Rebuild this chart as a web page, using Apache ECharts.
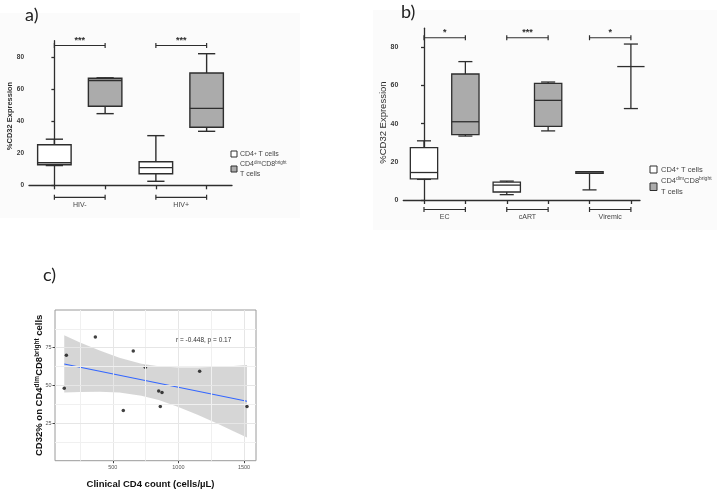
<!DOCTYPE html>
<html><head><meta charset="utf-8">
<script src="https://cdn.jsdelivr.net/npm/echarts@6/dist/echarts.min.js"></script>
<style>html,body{margin:0;padding:0;background:#fff}#c{width:724px;height:491px}</style>
</head><body><div id="c"></div>
<script>
// ---------- Panel a ----------
const aGroups = ['HIV-', 'HIV+'];
const aCD4 = [[12.3, 12.8, 14.0, 25.2, 28.7], [2.5, 7.2, 11.0, 14.7, 30.9]];
const aDim = [[44.6, 49.2, 65.2, 66.6, 66.9], [33.6, 36.1, 47.9, 69.9, 81.9]];
const aStars = ['***', '***'];
const aTicks = [0, 20, 40, 60, 80];
// ---------- Panel b ----------
const bGroups = ['EC', 'cART', 'Viremic'];
const bCD4 = [[10.8, 11.1, 14.4, 27.4, 31.0], [2.8, 4.2, 7.8, 9.4, 9.9], [5.3, 14.0, 14.0, 14.8, 14.8]];
const bDim = [[33.5, 34.2, 41.0, 66.0, 72.5], [36.2, 38.6, 52.2, 61.1, 61.8], [47.9, 47.9, 69.9, 81.7, 81.7]];
const bStars = ['*', '***', '*'];
const bTicks = [0, 20, 40, 60, 80];
// ---------- Panel c ----------
const cCD4count = [130, 146, 367, 580, 656, 748, 850, 875, 862, 1162, 1523];
const cCD32 = [48.1, 70.0, 82.1, 33.3, 72.8, 62.0, 46.2, 45.3, 36.0, 59.4, 36.0];
const cFitX = [130, 1523];
const cFitY = [64.2, 39.5];
const cBandX = [130, 250, 400, 550, 718, 850, 1000, 1150, 1300, 1420, 1523];
const cBandLow = [45.2, 45.6, 45.8, 45.2, 43.1, 40.2, 35.7, 30.3, 24.5, 19.6, 15.4];
const cBandHigh = [83.3, 78.5, 73.1, 68.3, 64.4, 62.6, 61.8, 61.8, 62.3, 62.9, 63.5];
const cXTicks = [500, 1000, 1500];
const cXMinor = [250, 750, 1250];
const cYTicks = [25, 50, 75];
const cYMinor = [12.5, 37.5, 62.5, 87.5];
const cNote = 'r = -0.448, p = 0.17';

const FONT = 'Liberation Sans';
const INK = '#2e2e2e';
const GREY = '#ababab';

function boxData(groups, cd4, dim) {
  const white = [], grey = [];
  groups.forEach((g, i) => { white.push([2 * i].concat(cd4[i])); grey.push([2 * i + 1].concat(dim[i])); });
  return [white, grey];
}
function boxRender(fill, lw) {
  return function (params, api) {
    const s = api.value(0);
    const v = [1, 2, 3, 4, 5].map(i => api.value(i));
    const unit = api.size([1, 0])[0];
    const bw = unit * 0.66, cw = unit * 0.34;
    const cx = api.coord([s, 0])[0];
    const y = v.map(val => api.coord([s, val])[1]);
    const st = { stroke: INK, lineWidth: lw };
    const kids = [];
    const line = (x1, y1, x2, y2) => kids.push({ type: 'line', shape: { x1, y1, x2, y2 }, style: st });
    const noBox = v[1] === v[0] && v[3] === v[4];
    if (noBox) {
      line(cx, y[0], cx, y[4]);
    } else {
      line(cx, y[4], cx, y[3]);
      line(cx, y[0], cx, y[1]);
    }
    line(cx - cw / 2, y[4], cx + cw / 2, y[4]);
    line(cx - cw / 2, y[0], cx + cw / 2, y[0]);
    if (!noBox) kids.push({ type: 'rect', shape: { x: cx - bw / 2, y: y[3], width: bw, height: y[1] - y[3] }, style: { fill: fill, stroke: INK, lineWidth: lw } });
    line(cx - bw / 2, y[2], cx + bw / 2, y[2]);
    return { type: 'group', children: kids };
  };
}
function sigRender(labels, yVal, fs) {
  return function (params, api) {
    const p1 = api.coord([api.value(1), yVal]);
    const p2 = api.coord([api.value(2), yVal]);
    const st = { stroke: INK, lineWidth: 1.2 };
    return { type: 'group', children: [
      { type: 'line', shape: { x1: p1[0], y1: p1[1], x2: p2[0], y2: p2[1] }, style: st },
      { type: 'line', shape: { x1: p1[0], y1: p1[1] - 2.5, x2: p1[0], y2: p1[1] + 2.5 }, style: st },
      { type: 'line', shape: { x1: p2[0], y1: p2[1] - 2.5, x2: p2[0], y2: p2[1] + 2.5 }, style: st },
      { type: 'text', x: (p1[0] + p2[0]) / 2, y: p1[1] - 1, style: { text: labels[api.value(0)], fill: INK, fontSize: fs, fontWeight: 'bold', fontFamily: FONT, align: 'center', verticalAlign: 'bottom', textAlign: 'center', textVerticalAlign: 'bottom' } }
    ] };
  };
}
function groupRender(names, lineOff, textOff, fs) {
  return function (params, api) {
    const p1 = api.coord([api.value(1), 0]);
    const p2 = api.coord([api.value(2), 0]);
    const yl = p1[1] + lineOff;
    const st = { stroke: INK, lineWidth: 1.2 };
    return { type: 'group', children: [
      { type: 'line', shape: { x1: p1[0], y1: yl, x2: p2[0], y2: yl }, style: st },
      { type: 'line', shape: { x1: p1[0], y1: yl - 2.5, x2: p1[0], y2: yl + 2.5 }, style: st },
      { type: 'line', shape: { x1: p2[0], y1: yl - 2.5, x2: p2[0], y2: yl + 2.5 }, style: st },
      { type: 'text', x: (p1[0] + p2[0]) / 2, y: p1[1] + textOff, style: { text: names[api.value(0)], fill: '#444', fontSize: fs, fontFamily: FONT, align: 'center', verticalAlign: 'middle', textAlign: 'center', textVerticalAlign: 'middle' } }
    ] };
  };
}
function pairs(groups) { return groups.map((g, i) => [i, 2 * i, 2 * i + 1]); }

const [aWhite, aGrey] = boxData(aGroups, aCD4, aDim);
const [bWhite, bGrey] = boxData(bGroups, bCD4, bDim);
const aSlots = aGroups.flatMap((g, i) => [2 * i, 2 * i + 1]);
const bSlots = bGroups.flatMap((g, i) => [2 * i, 2 * i + 1]);

function boxXAxis(gi, max, slots) {
  return { gridIndex: gi, type: 'value', min: -0.5, max: max,
    axisLine: { show: true, lineStyle: { color: INK, width: 1.3 } },
    axisTick: { show: true, customValues: slots, length: 4, lineStyle: { color: INK, width: 1.3 } },
    axisLabel: { show: false }, splitLine: { show: false } };
}
function boxYAxis(gi, ticks, nameSize, nameWeight, nameGap, pad, lblSize) {
  return { gridIndex: gi, type: 'value', min: 0, max: 90,
    name: '%CD32 Expression', nameLocation: 'middle', nameGap: nameGap, nameMoveOverlap: false,
    nameTextStyle: { fontSize: nameSize, fontWeight: nameWeight, color: INK, fontFamily: FONT, padding: pad },
    axisLine: { show: true, lineStyle: { color: INK, width: 1.3 } },
    axisTick: { show: true, customValues: ticks, length: 3, lineStyle: { color: INK, width: 1.3 } },
    axisLabel: { customValues: ticks, fontSize: lblSize, fontWeight: 'bold', color: '#3a3a3a', margin: 5, fontFamily: FONT },
    splitLine: { show: false } };
}

const gridLines = []
  .concat(cXTicks.map(v => ({ xAxis: v, lineStyle: { color: '#e6e6e6', width: 1, type: 'solid' } })))
  .concat(cXMinor.map(v => ({ xAxis: v, lineStyle: { color: '#f0f0f0', width: 1, type: 'solid' } })))
  .concat(cYTicks.map(v => ({ yAxis: v, lineStyle: { color: '#e6e6e6', width: 1, type: 'solid' } })))
  .concat(cYMinor.map(v => ({ yAxis: v, lineStyle: { color: '#f0f0f0', width: 1, type: 'solid' } })));

const plain = v => String(v);

const option = {
  animation: false,
  textStyle: { fontFamily: FONT },
  grid: [
    { left: 29, top: 40.7, width: 203, height: 144.6, outerBoundsMode: 'none', containLabel: false },
    { left: 403.3, top: 28.2, width: 236.7, height: 171.8, outerBoundsMode: 'none', containLabel: false },
    { left: 55, top: 310, width: 201, height: 150.7, outerBoundsMode: 'none', containLabel: false,
      show: true, backgroundColor: '#ffffff', borderColor: '#9a9a9a', borderWidth: 1 }
  ],
  xAxis: [
    boxXAxis(0, 3.5, aSlots),
    boxXAxis(1, 5.22, bSlots),
    { gridIndex: 2, type: 'value', min: 59.5, max: 1591.5,
      name: 'Clinical CD4 count (cells/µL)', nameLocation: 'middle', nameGap: 19, nameMoveOverlap: false,
      nameTextStyle: { fontSize: 9.5, fontWeight: 'bold', color: '#111', fontFamily: FONT, padding: [0, 10, 0, 0] },
      axisLine: { show: false },
      axisTick: { show: true, customValues: cXTicks, length: 2.5, lineStyle: { color: '#444' } },
      axisLabel: { customValues: cXTicks, formatter: plain, fontSize: 5.5, color: '#555', margin: 4 },
      splitLine: { show: false } }
  ],
  yAxis: [
    boxYAxis(0, aTicks, 7.5, 'bold', 15, [0, 6, 0, 0], 6.5),
    boxYAxis(1, bTicks, 9.5, 'normal', 15, [0, 17, 0, 0], 7),
    { gridIndex: 2, type: 'value', min: 0, max: 100,
      name: '{a|CD32% on CD4}{s|dim}{a|CD8}{s|bright}{a| cells}', nameLocation: 'middle', nameGap: 11, nameMoveOverlap: false,
      nameTextStyle: { rich: {
        a: { fontSize: 9.5, fontWeight: 'bold', color: '#111', fontFamily: FONT },
        s: { fontSize: 6.5, fontWeight: 'bold', color: '#111', fontFamily: FONT, verticalAlign: 'top' } } },
      axisLine: { show: false },
      axisTick: { show: true, customValues: cYTicks, length: 2.5, lineStyle: { color: '#444' } },
      axisLabel: { customValues: cYTicks, formatter: plain, fontSize: 5.5, color: '#555', margin: 3.5 },
      splitLine: { show: false } }
  ],
  series: [
    { type: 'custom', xAxisIndex: 0, yAxisIndex: 0, clip: false, renderItem: boxRender('#ffffff', 1.4), data: aWhite, z: 3 },
    { type: 'custom', xAxisIndex: 0, yAxisIndex: 0, clip: false, renderItem: boxRender(GREY, 1.4), data: aGrey, z: 3 },
    { type: 'custom', xAxisIndex: 0, yAxisIndex: 0, clip: false, renderItem: sigRender(aStars, 87, 9), data: pairs(aGroups), z: 3 },
    { type: 'custom', xAxisIndex: 0, yAxisIndex: 0, clip: false, renderItem: groupRender(aGroups, 12, 19.5, 7), data: pairs(aGroups), z: 3 },
    { type: 'custom', xAxisIndex: 1, yAxisIndex: 1, clip: false, renderItem: boxRender('#ffffff', 1.3), data: bWhite, z: 3 },
    { type: 'custom', xAxisIndex: 1, yAxisIndex: 1, clip: false, renderItem: boxRender(GREY, 1.3), data: bGrey, z: 3 },
    { type: 'custom', xAxisIndex: 1, yAxisIndex: 1, clip: false, renderItem: sigRender(bStars, 85, 9), data: pairs(bGroups), z: 3 },
    { type: 'custom', xAxisIndex: 1, yAxisIndex: 1, clip: false, renderItem: groupRender(bGroups, 9.5, 17.5, 7), data: pairs(bGroups), z: 3 },
    // invisible carrier for panel c grid lines
    { type: 'line', xAxisIndex: 2, yAxisIndex: 2, symbol: 'none', silent: true,
      data: cBandX.map((x, i) => [x, cBandLow[i]]), lineStyle: { opacity: 0 }, z: 1,
      markLine: { silent: true, symbol: ['none', 'none'], label: { show: false }, animation: false, data: gridLines } },
    // confidence band
    { type: 'custom', xAxisIndex: 2, yAxisIndex: 2, clip: true, silent: true, z: 2,
      data: [[cBandX[0], cBandLow[0]]],
      renderItem: function (params, api) {
        const pts = cBandX.map((x, i) => api.coord([x, cBandLow[i]]));
        for (let i = cBandX.length - 1; i >= 0; i--) pts.push(api.coord([cBandX[i], cBandHigh[i]]));
        return { type: 'polygon', shape: { points: pts }, style: { fill: 'rgba(153,153,153,0.4)' } };
      } },
    { type: 'line', xAxisIndex: 2, yAxisIndex: 2, symbol: 'none', silent: true,
      data: cFitX.map((x, i) => [x, cFitY[i]]), lineStyle: { color: '#3366FF', width: 1.1 }, z: 3 },
    { type: 'scatter', xAxisIndex: 2, yAxisIndex: 2, symbolSize: 3.5, silent: true,
      data: cCD4count.map((x, i) => [x, cCD32[i]]), itemStyle: { color: '#111' }, z: 4 }
  ],
  graphic: [
    { type: 'rect', z: -5, silent: true, shape: { x: 0, y: 13, width: 300, height: 205 }, style: { fill: '#fbfbfb' } },
    { type: 'rect', z: -5, silent: true, shape: { x: 373, y: 10, width: 344, height: 220 }, style: { fill: '#fbfbfb' } },
    { type: 'text', x: 25, y: 15, z: 10, style: { text: 'a)', fontSize: 18, fontFamily: 'Lato', fill: '#222', verticalAlign: 'middle', textVerticalAlign: 'middle' } },
    { type: 'text', x: 401, y: 12, z: 10, style: { text: 'b)', fontSize: 18, fontFamily: 'Lato', fill: '#222', verticalAlign: 'middle', textVerticalAlign: 'middle' } },
    { type: 'text', x: 43, y: 275, z: 10, style: { text: 'c)', fontSize: 18, fontFamily: 'Lato', fill: '#222', verticalAlign: 'middle', textVerticalAlign: 'middle' } },
    // legend a
    { type: 'rect', z: 10, shape: { x: 231, y: 151, width: 6, height: 6 }, style: { fill: '#fff', stroke: INK, lineWidth: 1 } },
    { type: 'text', x: 240, y: 154.5, z: 10, style: { text: '{n|CD4}{s|+}{n| T cells}', verticalAlign: 'middle', textVerticalAlign: 'middle',
      rich: { n: { fontSize: 7, fill: '#444', fontFamily: FONT }, s: { fontSize: 4.5, fill: '#444', fontFamily: FONT, verticalAlign: 'top' } } } },
    { type: 'rect', z: 10, shape: { x: 231, y: 166, width: 6, height: 6 }, style: { fill: GREY, stroke: INK, lineWidth: 1 } },
    { type: 'text', x: 240, y: 164, z: 10, style: { text: '{n|CD4}{s|dim}{n|CD8}{s|bright}', verticalAlign: 'middle', textVerticalAlign: 'middle',
      rich: { n: { fontSize: 7, fill: '#444', fontFamily: FONT }, s: { fontSize: 4.5, fill: '#444', fontFamily: FONT, verticalAlign: 'top' } } } },
    { type: 'text', x: 240, y: 174, z: 10, style: { text: 'T cells', fontSize: 7, fill: '#444', fontFamily: FONT, verticalAlign: 'middle', textVerticalAlign: 'middle' } },
    // legend b
    { type: 'rect', z: 10, shape: { x: 650, y: 166, width: 7, height: 7 }, style: { fill: '#fff', stroke: INK, lineWidth: 1 } },
    { type: 'text', x: 661, y: 170, z: 10, style: { text: '{n|CD4}{s|+}{n| T cells}', verticalAlign: 'middle', textVerticalAlign: 'middle',
      rich: { n: { fontSize: 7.5, fill: '#444', fontFamily: FONT }, s: { fontSize: 5, fill: '#444', fontFamily: FONT, verticalAlign: 'top' } } } },
    { type: 'rect', z: 10, shape: { x: 650, y: 183, width: 7, height: 7.5 }, style: { fill: GREY, stroke: INK, lineWidth: 1 } },
    { type: 'text', x: 661, y: 180.5, z: 10, style: { text: '{n|CD4}{s|dim}{n|CD8}{s|bright}', verticalAlign: 'middle', textVerticalAlign: 'middle',
      rich: { n: { fontSize: 7.5, fill: '#444', fontFamily: FONT }, s: { fontSize: 5, fill: '#444', fontFamily: FONT, verticalAlign: 'top' } } } },
    { type: 'text', x: 661, y: 191.5, z: 10, style: { text: 'T cells', fontSize: 7.5, fill: '#444', fontFamily: FONT, verticalAlign: 'middle', textVerticalAlign: 'middle' } },
    // panel c annotation
    { type: 'text', x: 176, y: 340.7, z: 10, style: { text: cNote, fontSize: 6.5, fill: '#333', fontFamily: FONT, verticalAlign: 'middle', textVerticalAlign: 'middle' } }
  ]
};
const chart = echarts.init(document.getElementById('c'), null, { renderer: 'canvas', width: 724, height: 491 });
chart.setOption(option);
</script>
</body></html>
